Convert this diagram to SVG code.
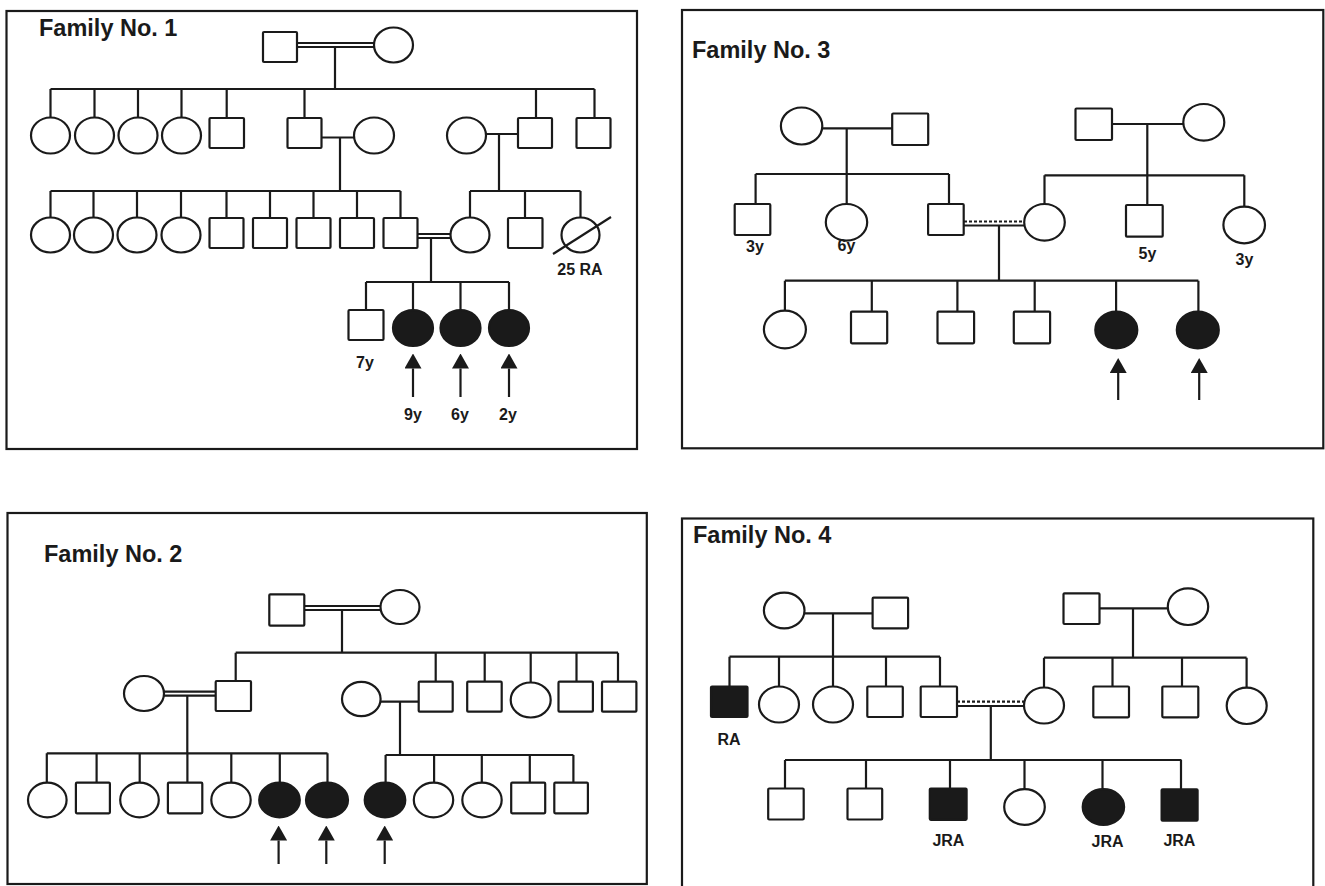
<svg xmlns="http://www.w3.org/2000/svg" width="1325" height="886" viewBox="0 0 1325 886">
<defs>
<style>
.frame{fill:none;stroke:#1a1a1a;stroke-width:2.2}
.ln{fill:none;stroke:#1a1a1a;stroke-width:2.2}
.dot{stroke-dasharray:3 2}
.m{fill:#fff;stroke:#1a1a1a;stroke-width:2.2}
.a{fill:#1a1a1a;stroke:#1a1a1a;stroke-width:2.2}
.t{font-family:"Liberation Sans",Arial,Helvetica,sans-serif;font-weight:bold;fill:#1a1a1a}
.title{font-size:23.5px}
.lab{font-size:16px;text-anchor:middle}
.arw{marker-end:url(#ah)}
</style>
<marker id="ah" markerUnits="userSpaceOnUse" markerWidth="15" markerHeight="17" viewBox="0 0 15 17" refX="0" refY="8.5" orient="auto"><path d="M0,0 L15,8.5 L0,17 Z" fill="#1a1a1a"/></marker>
</defs>
<rect width="1325" height="886" fill="#fff"/>

<g id="frames">
<rect class="frame" x="6.5" y="11" width="630.5" height="438"/>
<rect class="frame" x="682" y="10" width="641.3" height="438.3"/>
<rect class="frame" x="7.5" y="513" width="639.3" height="371"/>
<rect class="frame" x="682" y="518.5" width="631.3" height="380"/>
</g>
<g id="titles">
<text class="t title" x="39" y="36">Family No. 1</text>
<text class="t title" x="692" y="58.3">Family No. 3</text>
<text class="t title" x="44" y="561.7">Family No. 2</text>
<text class="t title" x="693" y="543.3">Family No. 4</text>
</g>

<g id="connectors" class="ln">
<!-- Family 1 -->
<path d="M297,43 H374 M297,47 H374 M335,47 V89"/>
<path d="M50.5,89 H594.5 M50.5,89 V117.5 M94.5,89 V117.5 M138,89 V117.5 M181.5,89 V117.5 M226.7,89 V118 M304.5,89 V118 M536,89 V118 M594.5,89 V118"/>
<path d="M321.5,137.5 H354 M340,137.5 V191 M486,134 H518 M499,134 V191"/>
<path d="M50.5,191 H400.5 M50.5,191 V217.5 M93.5,191 V217.5 M137,191 V217.5 M181,191 V217.5 M226.5,191 V218 M270,191 V218 M313.5,191 V218 M357,191 V218 M400.5,191 V218"/>
<path d="M470,191 H580.5 M470,191 V217.5 M525,191 V218 M580.5,191 V217.5"/>
<path d="M417.5,234 H450.5 M417.5,238 H450.5 M431,238 V282"/>
<path d="M366,282 H509 M366,282 V310 M413,282 V310 M460.5,282 V310 M509,282 V310"/>
<path class="arw" d="M413,397 V368.5"/>
<path class="arw" d="M460.5,397 V368.5"/>
<path class="arw" d="M509,397 V368.5"/>
<!-- Family 3 -->
<path d="M822,128.3 H892.2 M846.7,128.3 V174 M755.6,174 H949 M755.6,174 V204 M846.7,174 V204 M949,174 V204"/>
<path d="M1112,124 H1183.3 M1147.3,124 V175.3 M1044.5,175.3 H1244.3 M1044.5,175.3 V204 M1147.3,175.3 V205 M1244.3,175.3 V206.7"/>
<path class="dot" d="M964,221.5 H1024.5"/>
<path d="M964,225.5 H1024.5 M999,225.5 V280.7"/>
<path d="M784.9,280.7 H1198.4 M784.9,280.7 V310.7 M871.8,280.7 V311.7 M957.4,280.7 V311.7 M1034.7,280.7 V311.7 M1116.1,280.7 V311.7 M1198.4,280.7 V311.7"/>
<path class="arw" d="M1118.2,400 V373"/>
<path class="arw" d="M1199.2,400 V373"/>
<!-- Family 2 -->
<path d="M304.3,606 H380.5 M304.3,610 H380.5 M342,610 V652.7"/>
<path d="M235.7,652.7 H618 M235.7,652.7 V681 M435.7,652.7 V681.7 M484.7,652.7 V681.7 M530.7,652.7 V682.5 M576.5,652.7 V681.7 M618,652.7 V681.7"/>
<path d="M164,691.7 H215.7 M164,695.7 H215.7 M187.3,695.7 V753.3"/>
<path d="M380.6,701.7 H418.7 M400,701.7 V755"/>
<path d="M46.8,753.3 H327.5 M46.8,753.3 V782.7 M96.6,753.3 V782.7 M139.7,753.3 V782.7 M187.4,753.3 V782.7 M231.3,753.3 V782.7 M279.8,753.3 V782.7 M327.5,753.3 V782.7"/>
<path d="M385.6,755 H573.4 M385.6,755 V782.7 M434.1,755 V782.7 M481.8,755 V782.7 M529.8,755 V782.7 M573.4,755 V782.7"/>
<path class="arw" d="M278.6,864 V840.5"/>
<path class="arw" d="M326.3,864 V840.5"/>
<path class="arw" d="M384.7,864 V840.5"/>
<!-- Family 4 -->
<path d="M804.5,613.3 H872.6 M833,613.3 V656.7 M729.5,656.7 H940 M729.5,656.7 V686.5 M779,656.7 V686.5 M833,656.7 V686.5 M886,656.7 V686.5 M940,656.7 V686.5"/>
<path d="M1099.5,608.3 H1168 M1133,608.3 V657.7 M1044,657.7 H1246.6 M1044,657.7 V687.5 M1112.5,657.7 V686.5 M1182,657.7 V686.5 M1246.6,657.7 V687.6"/>
<path class="dot" d="M957,701.7 H1024.2"/>
<path d="M957,706 H1024.2 M990.8,706 V760"/>
<path d="M785,760 H1181.5 M785,760 V788.5 M866,760 V788.5 M950,760 V788.5 M1024.5,760 V789.2 M1102.5,760 V789.2 M1181,760 V789.3"/>
</g>

<!-- ===== Family No. 1 nodes ===== -->
<g id="f1-I-1"><rect class="m" x="263" y="32" width="34" height="30" rx="1"/></g>
<g id="f1-I-2"><ellipse class="m" cx="393.5" cy="45" rx="19.5" ry="17.5"/></g>

<g id="f1-II-1"><ellipse class="m" cx="50.5" cy="135.5" rx="19.5" ry="18"/></g>
<g id="f1-II-2"><ellipse class="m" cx="94.5" cy="135.5" rx="19.5" ry="18"/></g>
<g id="f1-II-3"><ellipse class="m" cx="138" cy="135.5" rx="19.5" ry="18"/></g>
<g id="f1-II-4"><ellipse class="m" cx="181.5" cy="135.5" rx="19.5" ry="18"/></g>
<g id="f1-II-5"><rect class="m" x="209.5" y="118" width="34.5" height="30" rx="1"/></g>
<g id="f1-II-6"><rect class="m" x="287.5" y="118" width="34" height="30" rx="1"/></g>
<g id="f1-II-7"><ellipse class="m" cx="374" cy="135.5" rx="20" ry="18"/></g>
<g id="f1-II-8"><ellipse class="m" cx="466.5" cy="135.5" rx="19.5" ry="18"/></g>
<g id="f1-II-9"><rect class="m" x="518" y="118" width="34" height="30" rx="1"/></g>
<g id="f1-II-10"><rect class="m" x="576.5" y="118" width="34" height="30" rx="1"/></g>

<g id="f1-III-1"><ellipse class="m" cx="50.5" cy="235" rx="19.5" ry="17.5"/></g>
<g id="f1-III-2"><ellipse class="m" cx="93.5" cy="235" rx="19.5" ry="17.5"/></g>
<g id="f1-III-3"><ellipse class="m" cx="137" cy="235" rx="19.5" ry="17.5"/></g>
<g id="f1-III-4"><ellipse class="m" cx="181" cy="235" rx="19.5" ry="17.5"/></g>
<g id="f1-III-5"><rect class="m" x="209.5" y="218" width="34" height="30" rx="1"/></g>
<g id="f1-III-6"><rect class="m" x="253" y="218" width="34" height="30" rx="1"/></g>
<g id="f1-III-7"><rect class="m" x="296.5" y="218" width="34" height="30" rx="1"/></g>
<g id="f1-III-8"><rect class="m" x="340" y="218" width="34" height="30" rx="1"/></g>
<g id="f1-III-9"><rect class="m" x="383.5" y="218" width="34" height="30" rx="1"/></g>
<g id="f1-III-10"><ellipse class="m" cx="470" cy="235" rx="19.5" ry="17.5"/></g>
<g id="f1-III-11"><rect class="m" x="508" y="218" width="34.5" height="30" rx="1"/></g>
<g id="f1-III-12"><ellipse class="m" cx="580.5" cy="235" rx="19" ry="17.5"/><path class="ln" d="M553,254 L611,217"/><text class="t lab" x="580" y="275">25 RA</text></g>

<g id="f1-IV-1"><rect class="m" x="348.5" y="310" width="35" height="30" rx="1"/><text class="t lab" x="365" y="368">7y</text></g>
<g id="f1-IV-2"><ellipse class="a" cx="413" cy="328" rx="20" ry="18"/><text class="t lab" x="413" y="420">9y</text></g>
<g id="f1-IV-3"><ellipse class="a" cx="460.5" cy="328" rx="20" ry="18"/><text class="t lab" x="460" y="420">6y</text></g>
<g id="f1-IV-4"><ellipse class="a" cx="509" cy="328" rx="20" ry="18"/><text class="t lab" x="508" y="420">2y</text></g>

<!-- ===== Family No. 3 nodes ===== -->
<g id="f3-I-1"><ellipse class="m" cx="801.6" cy="126" rx="20.7" ry="18.5"/></g>
<g id="f3-I-2"><rect class="m" x="892.2" y="113.5" width="36" height="31.5" rx="1"/></g>
<g id="f3-I-3"><rect class="m" x="1075.5" y="108.5" width="36.5" height="31.5" rx="1"/></g>
<g id="f3-I-4"><ellipse class="m" cx="1203.8" cy="122.3" rx="20.5" ry="18.3"/></g>

<g id="f3-II-1"><rect class="m" x="734.7" y="204" width="35.6" height="31" rx="1"/><text class="t lab" x="755" y="252">3y</text></g>
<g id="f3-II-2"><ellipse class="m" cx="846.5" cy="222.3" rx="20.7" ry="18.3"/><text class="t lab" x="846.5" y="250.5">6y</text></g>
<g id="f3-II-3"><rect class="m" x="928.1" y="204" width="35.6" height="31" rx="1"/></g>
<g id="f3-II-4"><ellipse class="m" cx="1044.5" cy="222.3" rx="20.3" ry="18.3"/></g>
<g id="f3-II-5"><rect class="m" x="1126" y="205" width="36.7" height="31.7" rx="1"/><text class="t lab" x="1147.5" y="259">5y</text></g>
<g id="f3-II-6"><ellipse class="m" cx="1244.2" cy="225" rx="20.8" ry="18.3"/><text class="t lab" x="1244.5" y="265">3y</text></g>

<g id="f3-III-1"><ellipse class="m" cx="784.9" cy="329.5" rx="21" ry="18.8"/></g>
<g id="f3-III-2"><rect class="m" x="851" y="311.7" width="36.2" height="31.6" rx="1"/></g>
<g id="f3-III-3"><rect class="m" x="937.5" y="311.7" width="36.6" height="31.6" rx="1"/></g>
<g id="f3-III-4"><rect class="m" x="1013.8" y="311.7" width="36.3" height="31.6" rx="1"/></g>
<g id="f3-III-5"><ellipse class="a" cx="1116.3" cy="330" rx="21" ry="18.3"/></g>
<g id="f3-III-6"><ellipse class="a" cx="1197.8" cy="330" rx="21" ry="18.3"/></g>

<!-- ===== Family No. 2 nodes ===== -->
<g id="f2-I-1"><rect class="m" x="269.3" y="594.3" width="35" height="31.4" rx="1"/></g>
<g id="f2-I-2"><ellipse class="m" cx="400" cy="607" rx="19.5" ry="17"/></g>

<g id="f2-II-1"><ellipse class="m" cx="144" cy="693.5" rx="20" ry="17.5"/></g>
<g id="f2-II-2"><rect class="m" x="215.7" y="681" width="35.3" height="30" rx="1"/></g>
<g id="f2-II-3"><ellipse class="m" cx="361.3" cy="699" rx="19.3" ry="17.2"/></g>
<g id="f2-II-4"><rect class="m" x="418.7" y="681.7" width="34" height="30" rx="1"/></g>
<g id="f2-II-5"><rect class="m" x="467.2" y="681.7" width="34.5" height="30" rx="1"/></g>
<g id="f2-II-6"><ellipse class="m" cx="530.7" cy="700" rx="20" ry="17.5"/></g>
<g id="f2-II-7"><rect class="m" x="558.5" y="681.7" width="34.4" height="30" rx="1"/></g>
<g id="f2-II-8"><rect class="m" x="602" y="681.7" width="34.4" height="30" rx="1"/></g>

<g id="f2-III-1"><ellipse class="m" cx="47.3" cy="800" rx="19.3" ry="17.3"/></g>
<g id="f2-III-2"><rect class="m" x="75.9" y="782.7" width="34" height="30.6" rx="1"/></g>
<g id="f2-III-3"><ellipse class="m" cx="139.5" cy="800" rx="19.3" ry="17.3"/></g>
<g id="f2-III-4"><rect class="m" x="167.9" y="782.7" width="34.4" height="30.6" rx="1"/></g>
<g id="f2-III-5"><ellipse class="m" cx="231" cy="800" rx="19.7" ry="17.3"/></g>
<g id="f2-III-6"><ellipse class="a" cx="279.5" cy="800" rx="20.3" ry="17.3"/></g>
<g id="f2-III-7"><ellipse class="a" cx="327" cy="800" rx="21" ry="17.3"/></g>
<g id="f2-III-8"><ellipse class="a" cx="385" cy="800" rx="20.3" ry="17.3"/></g>
<g id="f2-III-9"><ellipse class="m" cx="433.5" cy="800" rx="19.7" ry="17.3"/></g>
<g id="f2-III-10"><ellipse class="m" cx="482" cy="800" rx="19.7" ry="17.3"/></g>
<g id="f2-III-11"><rect class="m" x="511.2" y="782.7" width="34" height="30.6" rx="1"/></g>
<g id="f2-III-12"><rect class="m" x="554.3" y="782.7" width="33.6" height="30.6" rx="1"/></g>

<!-- ===== Family No. 4 nodes ===== -->
<g id="f4-I-1"><ellipse class="m" cx="784.2" cy="610.5" rx="20.3" ry="17.8"/></g>
<g id="f4-I-2"><rect class="m" x="872.6" y="597.7" width="35.5" height="30.6" rx="1"/></g>
<g id="f4-I-3"><rect class="m" x="1063.5" y="593.3" width="36" height="30.7" rx="1"/></g>
<g id="f4-I-4"><ellipse class="m" cx="1188" cy="606.7" rx="20.2" ry="18.3"/></g>

<g id="f4-II-1"><rect class="a" x="711" y="686.5" width="36.5" height="30.5" rx="1"/><text class="t lab" x="729" y="745">RA</text></g>
<g id="f4-II-2"><ellipse class="m" cx="779" cy="704.5" rx="20" ry="18"/></g>
<g id="f4-II-3"><ellipse class="m" cx="833" cy="704.5" rx="20" ry="18"/></g>
<g id="f4-II-4"><rect class="m" x="867.3" y="686.5" width="35.5" height="30.5" rx="1"/></g>
<g id="f4-II-5"><rect class="m" x="920.7" y="686.5" width="36.3" height="30.5" rx="1"/></g>
<g id="f4-II-6"><ellipse class="m" cx="1044" cy="705.5" rx="20" ry="18"/></g>
<g id="f4-II-7"><rect class="m" x="1093.3" y="686.5" width="35.7" height="30.8" rx="1"/></g>
<g id="f4-II-8"><rect class="m" x="1162.3" y="686.5" width="36" height="30.8" rx="1"/></g>
<g id="f4-II-9"><ellipse class="m" cx="1246.7" cy="705.8" rx="20" ry="18.2"/></g>

<g id="f4-III-1"><rect class="m" x="768.2" y="788.5" width="35.5" height="31" rx="1"/></g>
<g id="f4-III-2"><rect class="m" x="847.5" y="788.5" width="34.7" height="31" rx="1"/></g>
<g id="f4-III-3"><rect class="a" x="929.8" y="788.5" width="36.8" height="31.3" rx="1"/><text class="t lab" x="948.4" y="845.7">JRA</text></g>
<g id="f4-III-4"><ellipse class="m" cx="1024.5" cy="807" rx="20.3" ry="17.8"/></g>
<g id="f4-III-5"><ellipse class="a" cx="1103.4" cy="807" rx="20.7" ry="17.8"/><text class="t lab" x="1107.5" y="846.7">JRA</text></g>
<g id="f4-III-6"><rect class="a" x="1161.6" y="789.3" width="36" height="31.4" rx="1"/><text class="t lab" x="1179.4" y="845.7">JRA</text></g>
</svg>
